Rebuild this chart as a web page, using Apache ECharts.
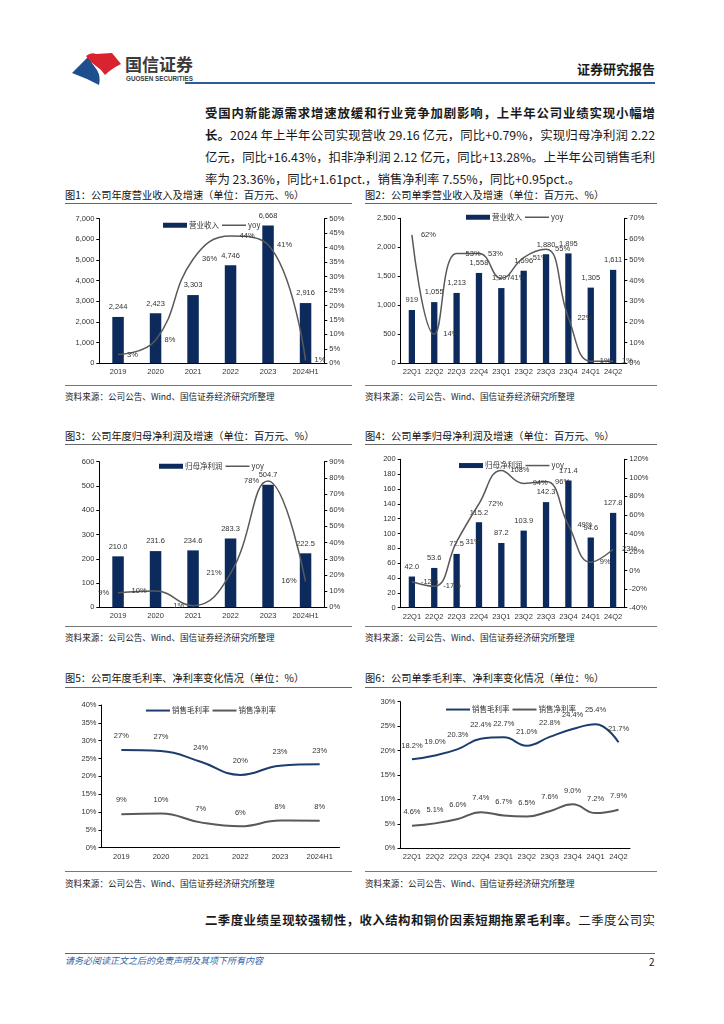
<!DOCTYPE html>
<html>
<head>
<meta charset="utf-8">
<script src="https://cdn.jsdelivr.net/npm/echarts@6.0.0/dist/echarts.min.js"></script>
<style>
html,body{margin:0;padding:0;background:#fff;}
#page{position:relative;width:724px;height:1024px;overflow:hidden;font-family:"Noto Sans CJK SC","Noto Sans",sans-serif;color:#1a1a1a;}
.abs{position:absolute;white-space:nowrap;}
.ln{position:absolute;left:205px;width:450px;font-size:13.5px;height:22px;line-height:22px;text-align:justify;text-align-last:justify;white-space:nowrap;}
.last{text-align-last:left;}
b{font-weight:700;}
.ttl{position:absolute;font-size:10.2px;line-height:12px;white-space:nowrap;color:#111;}
.rule{position:absolute;height:0;border-top:1.5px solid #666;}
.rule2{position:absolute;height:0;border-top:1px solid #777;}
.src{position:absolute;font-size:8.6px;line-height:10px;white-space:nowrap;color:#222;}
#chart{position:absolute;left:0;top:0;width:724px;height:1024px;}
</style>
</head>
<body>
<div id="page">
  <svg class="abs" style="left:0;top:0" width="220" height="100">
    <path d="M72,73 L88,57 Q93,65 97,70 Q101,77 99,85 Q86,78 72,73 Z" fill="#1d4f8f"/>
    <path d="M86,56 Q91,52 96,54 L112,53 L121,64 Q111,69 105,75 Q101,69 96,66 Q90,62 86,56 Z" fill="#d9232e"/>
    <text x="125" y="71" font-size="17" font-weight="700" fill="#3a3a3a" font-family="Noto Sans CJK SC">国信证券</text>
    <text x="126" y="81" font-size="6.3" font-weight="700" fill="#3a3a3a" font-family="Liberation Sans, Arial">GUOSEN SECURITIES</text>
  </svg>
  <div class="abs" style="right:69px;top:61px;font-size:13px;font-weight:700;line-height:16px;">证券研究报告</div>
  <div class="abs" style="left:185px;top:82px;width:470px;height:2px;background:#2c5d95;"></div>

  <div class="ln" style="top:102px;"><b>受国内新能源需求增速放缓和行业竞争加剧影响，上半年公司业绩实现小幅增</b></div>
  <div class="ln" style="top:124px;"><b>长。</b>2024 年上半年公司实现营收 29.16 亿元，同比+0.79%，实现归母净利润 2.22</div>
  <div class="ln" style="top:146px;">亿元，同比+16.43%，扣非净利润 2.12 亿元，同比+13.28%。上半年公司销售毛利</div>
  <div class="ln last" style="top:168px;">率为 23.36%，同比+1.61pct.，销售净利率 7.55%，同比+0.95pct.。</div>

  <div class="ttl" style="left:65px;top:189px;">图1：公司年度营业收入及增速（单位：百万元、%）</div>
  <div class="ttl" style="left:365px;top:189px;">图2：公司单季营业收入及增速（单位：百万元、%）</div>
  <div class="rule" style="left:65px;top:203px;width:287px;"></div>
  <div class="rule" style="left:365px;top:203px;width:292px;"></div>
  <div class="rule2" style="left:65px;top:385px;width:287px;"></div>
  <div class="rule2" style="left:365px;top:385px;width:292px;"></div>
  <div class="src" style="left:65px;top:391px;">资料来源：公司公告、Wind、国信证券经济研究所整理</div>
  <div class="src" style="left:365px;top:391px;">资料来源：公司公告、Wind、国信证券经济研究所整理</div>

  <div class="ttl" style="left:65px;top:430px;">图3：公司年度归母净利润及增速（单位：百万元、%）</div>
  <div class="ttl" style="left:365px;top:430px;">图4：公司单季归母净利润及增速（单位：百万元、%）</div>
  <div class="rule" style="left:65px;top:444px;width:287px;"></div>
  <div class="rule" style="left:365px;top:444px;width:292px;"></div>
  <div class="rule2" style="left:65px;top:626px;width:287px;"></div>
  <div class="rule2" style="left:365px;top:626px;width:292px;"></div>
  <div class="src" style="left:65px;top:632px;">资料来源：公司公告、Wind、国信证券经济研究所整理</div>
  <div class="src" style="left:365px;top:632px;">资料来源：公司公告、Wind、国信证券经济研究所整理</div>

  <div class="ttl" style="left:65px;top:672px;">图5：公司年度毛利率、净利率变化情况（单位：%）</div>
  <div class="ttl" style="left:365px;top:672px;">图6：公司单季毛利率、净利率变化情况（单位：%）</div>
  <div class="rule" style="left:65px;top:687px;width:287px;"></div>
  <div class="rule" style="left:365px;top:687px;width:292px;"></div>
  <div class="rule2" style="left:65px;top:871px;width:287px;"></div>
  <div class="rule2" style="left:365px;top:871px;width:292px;"></div>
  <div class="src" style="left:65px;top:878px;">资料来源：公司公告、Wind、国信证券经济研究所整理</div>
  <div class="src" style="left:365px;top:878px;">资料来源：公司公告、Wind、国信证券经济研究所整理</div>

  <div class="ln" style="top:909px;"><b>二季度业绩呈现较强韧性，收入结构和铜价因素短期拖累毛利率。</b>二季度公司实</div>

  <div class="abs" style="left:65px;top:953px;width:590px;height:1px;background:#3b6ea8;"></div>
  <div class="abs" style="left:65px;top:955px;font-size:9px;line-height:11px;font-style:italic;color:#2f62a3;">请务必阅读正文之后的免责声明及其项下所有内容</div>
  <div class="abs" style="left:649px;top:956px;font-size:10px;line-height:12px;color:#222;">2</div>

  <div id="chart"></div>
</div>
<script>
// ---- data ----
const years = ['2019', '2020', '2021', '2022', '2023', '2024H1'];
const quarters = ['22Q1', '22Q2', '22Q3', '22Q4', '23Q1', '23Q2', '23Q3', '23Q4', '24Q1', '24Q2'];
const annualRevenue = [2244, 2423, 3303, 4746, 6668, 2916];
const annualRevenueYoy = [3, 8, 36, 44, 41, 1];
const quarterRevenue = [919, 1055, 1213, 1558, 1297, 1596, 1880, 1895, 1305, 1611];
const quarterRevenueYoy = [62, 14, 53, 53, 41, 51, 55, 22, 1, 1];
const annualProfit = [210.0, 231.6, 234.6, 283.3, 504.7, 222.5];
const annualProfitYoy = [9, 10, 1, 21, 78, 16];
const quarterProfit = [42.0, 53.6, 72.5, 115.2, 87.2, 103.9, 142.3, 171.4, 94.6, 127.8];
const quarterProfitYoy = [-12, -17, 31, 72, 108, 94, 96, 49, 9, 23];
const annualGross = [27.4, 27.1, 24.1, 20.4, 23.0, 23.4];
const annualNet = [9.4, 9.6, 7.1, 6.0, 7.6, 7.55];
const quarterGross = [18.2, 19.0, 20.3, 22.4, 22.7, 21.0, 22.8, 24.4, 25.4, 21.7];
const quarterNet = [4.6, 5.1, 6.0, 7.4, 6.7, 6.5, 7.6, 9.0, 7.2, 7.9];

// ---- fit body text lines into the 450px column ----
function fitLines() {
  const lines = Array.from(document.querySelectorAll('.ln'));
  let fs = 13.5;
  lines.forEach(el => {
    let f = 13.5;
    el.style.fontSize = f + 'px';
    while (el.scrollWidth > 450 && f > 9) { f -= 0.1; el.style.fontSize = f + 'px'; }
    fs = Math.min(fs, f);
  });
  lines.forEach(el => { el.style.fontSize = fs + 'px'; });
}
fitLines();

// ---- styles ----
const NAVY = '#0c2a5b';
const GRAY = '#595959';
const BLUE = '#1c3d6e';
const TXT = '#333';
const FONT = '"Liberation Sans", Arial, "Noto Sans CJK SC", sans-serif';
const FS = 7.5;

const chart = echarts.init(document.getElementById('chart'), null, {renderer: 'canvas'});

function xAx(idx, data) {
  return {
    type: 'category', gridIndex: idx, data: data, boundaryGap: true,
    axisLine: {show: true, lineStyle: {color: '#000', width: 1}},
    axisTick: {show: false},
    splitLine: {show: false},
    axisLabel: {fontSize: FS, color: TXT, margin: 5, fontFamily: FONT, interval: 0}
  };
}
function yAx(idx, pos, min, max, interval, fmt) {
  return {
    type: 'value', gridIndex: idx, position: pos, min: min, max: max, interval: interval,
    axisLine: {show: true, lineStyle: {color: '#000', width: 1}},
    axisTick: {show: true, length: 3, lineStyle: {color: '#000'}},
    splitLine: {show: false},
    axisLabel: {fontSize: FS, color: TXT, margin: 5, fontFamily: FONT, formatter: fmt}
  };
}
const thou = v => Number(v).toLocaleString('en-US');
const pct = v => v + '%';

function barS(xi, yi, data, width, fmt) {
  return {
    type: 'bar', xAxisIndex: xi, yAxisIndex: yi, data: data, barWidth: width,
    itemStyle: {color: NAVY},
    label: {show: true, position: 'top', distance: 6, fontSize: FS, color: TXT, fontFamily: FONT,
      formatter: p => fmt(p.value)},
    z: 2
  };
}
function lineS(name, xi, yi, data, color, width, labelPos, fmt, dist) {
  return {
    name: name, type: 'line', xAxisIndex: xi, yAxisIndex: yi, data: data,
    smooth: 0.45, symbol: 'circle', symbolSize: 0, showSymbol: true,
    lineStyle: {color: color, width: width}, itemStyle: {color: color},
    label: {show: true, position: labelPos, distance: dist, fontSize: FS, color: TXT, fontFamily: FONT,
      formatter: p => fmt(p.value)},
    z: 5
  };
}
function legend(left, top, names, kinds) {
  return {
    left: left, top: top, orient: 'horizontal', itemWidth: 24, itemHeight: 5, itemGap: 3,
    padding: 0, textStyle: {fontSize: FS, color: TXT, fontFamily: '"Noto Sans CJK SC", sans-serif', padding: [0, 0, 0, -3]},
    data: names.map((n, i) => kinds[i] === 'bar'
      ? {name: n, icon: 'rect', itemStyle: {color: NAVY}}
      : {name: n, icon: 'path://M0,0 L48,0 L48,' + (kinds[i].w * 2) + ' L0,' + (kinds[i].w * 2) + ' Z',
         itemStyle: {color: kinds[i].c}})
  };
}

const fix1 = v => Number(v).toFixed(1);
const fix1p = v => Number(v).toFixed(1) + '%';
const roundp = v => Math.round(v) + '%';

const option = {
  backgroundColor: 'transparent',
  animation: false,
  grid: [
    {left: 99.3, top: 218.7, width: 225, height: 144.6},
    {left: 400.7, top: 218.3, width: 223.6, height: 145},
    {left: 99.3, top: 461.7, width: 225, height: 145.6},
    {left: 400.7, top: 459.3, width: 223.6, height: 148.4},
    {left: 101.5, top: 705, width: 238, height: 142.7},
    {left: 400.5, top: 701.7, width: 229.5, height: 146.6}
  ],
  xAxis: [xAx(0, years), xAx(1, quarters), xAx(2, years), xAx(3, quarters), xAx(4, years), xAx(5, quarters)],
  yAxis: [
    yAx(0, 'left', 0, 7000, 1000, thou), yAx(0, 'right', 0, 50, 5, pct),
    yAx(1, 'left', 0, 2500, 500, thou), yAx(1, 'right', 0, 70, 10, pct),
    yAx(2, 'left', 0, 600, 100, null), yAx(2, 'right', 0, 90, 10, pct),
    yAx(3, 'left', 0, 200, 20, null), yAx(3, 'right', -40, 120, 20, pct),
    yAx(4, 'left', 0, 40, 5, pct),
    yAx(5, 'left', 0, 30, 5, pct)
  ],
  legend: [
    legend(163, 221.5, ['营业收入', 'yoy'], ['bar', {c: GRAY, w: 1.5}]),
    legend(466, 213.5, ['营业收入', 'yoy'], ['bar', {c: GRAY, w: 1.5}]),
    legend(159, 462.5, ['归母净利润', 'yoy'], ['bar', {c: GRAY, w: 1.5}]),
    legend(459, 461.8, ['归母净利润', 'yoy'], ['bar', {c: GRAY, w: 1.5}]),
    legend(146, 706.8, ['销售毛利率', '销售净利率'], [{c: BLUE, w: 2}, {c: GRAY, w: 2}]),
    legend(446, 705.8, ['销售毛利率', '销售净利率'], [{c: BLUE, w: 2}, {c: GRAY, w: 2}])
  ],
  series: [
    Object.assign(barS(0, 0, annualRevenue, 11.5, thou), {name: '营业收入'}),
    lineS('yoy', 0, 1, annualRevenueYoy, GRAY, 1.5, 'right', pct, 9),
    Object.assign(barS(1, 2, quarterRevenue, 6.3, thou), {name: '营业收入'}),
    lineS('yoy', 1, 3, quarterRevenueYoy, GRAY, 1.5, 'right', pct, 9),
    Object.assign(barS(2, 4, annualProfit, 11.5, fix1), {name: '归母净利润'}),
    lineS('yoy', 2, 5, annualProfitYoy, GRAY, 1.5, 'left', pct, 9),
    Object.assign(barS(3, 6, quarterProfit, 6.3, fix1), {name: '归母净利润'}),
    lineS('yoy', 3, 7, quarterProfitYoy, GRAY, 1.5, 'right', pct, 9),
    lineS('销售毛利率', 4, 8, annualGross, BLUE, 2, 'top', roundp, 10),
    lineS('销售净利率', 4, 8, annualNet, GRAY, 2, 'top', roundp, 10),
    lineS('销售毛利率', 5, 9, quarterGross, BLUE, 2, 'top', fix1p, 10),
    lineS('销售净利率', 5, 9, quarterNet, GRAY, 2, 'top', fix1p, 10)
  ]
};
chart.setOption(option);
</script>
</body>
</html>
